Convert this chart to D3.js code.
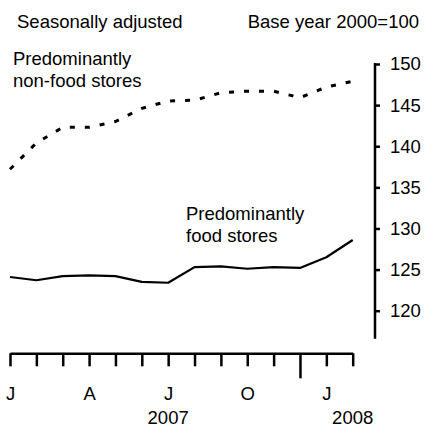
<!DOCTYPE html>
<html>
<head>
<meta charset="utf-8">
<script src="https://cdn.jsdelivr.net/npm/d3@7"></script>
<style>
  body { margin: 0; background: #fff; }
  svg text { font-family: "Liberation Sans", Arial, sans-serif; font-size: 18.5px; fill: #000; }
</style>
</head>
<body>
<svg id="chart" width="425" height="428"></svg>
<script>
// monthly index values, Jan 2007 .. Feb 2008
var months = ["J","F","M","A","M","J","J","A","S","O","N","D","J","F"]
var quarterLabels = {0: "J", 3: "A", 6: "J", 9: "O", 12: "J"}
var yearLabels = [{i: 6, text: "2007"}, {i: 13, text: "2008"}]
var nonFood = [137.2, 140.4, 142.3, 142.3, 143.0, 144.6, 145.5, 145.6, 146.5, 146.7, 146.7, 145.9, 147.2, 147.9]
var food = [124.1, 123.7, 124.2, 124.3, 124.2, 123.5, 123.4, 125.3, 125.4, 125.1, 125.3, 125.2, 126.5, 128.6]
var yTicks = [120, 125, 130, 135, 140, 145, 150]

var svg = d3.select('#chart')

var x = d3.scaleLinear().domain([0, months.length - 1]).range([10, 352.7])
var y = d3.scaleLinear().domain([120, 150]).range([310.7, 64])
var axisY = 353.3
var axisX = 375

// lines
var line = d3.line()
	.x(function(d, i) { return x(i) })
	.y(function(d) { return y(d) })

svg.append('path')
	.datum(nonFood)
	.attr('d', line)
	.attr('fill', 'none')
	.attr('stroke', '#000')
	.attr('stroke-width', 3)
	.attr('stroke-dasharray', '5,10')

svg.append('path')
	.datum(food)
	.attr('d', line)
	.attr('fill', 'none')
	.attr('stroke', '#000')
	.attr('stroke-width', 2.2)
	.attr('stroke-linejoin', 'round')

// y axis on the right
var yAxis = svg.append('g')
	.attr('transform', 'translate(' + axisX + ',0)')
	.call(d3.axisRight(y).tickValues(yTicks).tickSize(5).tickPadding(10).tickSizeOuter(0))
yAxis.select('.domain').remove()
yAxis.append('line')
	.attr('x1', 0).attr('x2', 0)
	.attr('y1', y(150) - 1).attr('y2', y(116.6))
	.attr('stroke', '#000').attr('stroke-width', 2.5)
yAxis.selectAll('.tick line').attr('stroke-width', 2.5)
yAxis.selectAll('.tick text')
	.attr('font-size', null)
	.attr('font-family', null)

// x axis
var xAxis = svg.append('g')
	.attr('transform', 'translate(0,' + axisY + ')')
	.call(d3.axisBottom(x)
		.tickValues(d3.range(months.length))
		.tickSizeInner(13).tickSizeOuter(0)
		.tickFormat(function(d) { return quarterLabels[d] || '' }))
xAxis.select('.domain').attr('stroke-width', 2.5)
xAxis.selectAll('.tick line')
	.attr('stroke-width', 2.5)
	.attr('y2', function(d) { return d === 11 ? 25 : 13 })
xAxis.selectAll('.tick text')
	.attr('font-size', null)
	.attr('font-family', null)
	.attr('y', 46.5)
	.attr('dy', 0)

svg.selectAll('.year')
	.data(yearLabels)
	.enter().append('text')
	.attr('class', 'year')
	.attr('x', function(d) { return x(d.i) })
	.attr('y', 424)
	.attr('text-anchor', 'middle')
	.text(function(d) { return d.text })

// header notes
svg.append('text').attr('x', 17).attr('y', 28).text('Seasonally adjusted')
svg.append('text').attr('x', 419).attr('y', 28).attr('text-anchor', 'end').text('Base year 2000=100')

// series labels
var labelNon = svg.append('text').attr('x', 13).attr('y', 65)
labelNon.append('tspan').attr('x', 13).text('Predominantly')
labelNon.append('tspan').attr('x', 13).attr('dy', 22).text('non-food stores')

var labelFood = svg.append('text').attr('x', 186).attr('y', 220)
labelFood.append('tspan').attr('x', 186).text('Predominantly')
labelFood.append('tspan').attr('x', 186).attr('dy', 22).text('food stores')
</script>
</body>
</html>
